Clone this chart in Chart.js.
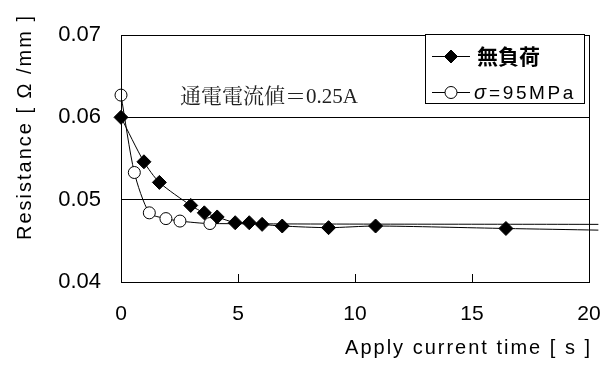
<!DOCTYPE html>
<html><head><meta charset="utf-8">
<script src="https://cdn.jsdelivr.net/npm/chart.js@4.4.0/dist/chart.umd.min.js"></script>
<style>html,body{margin:0;padding:0;background:#fff}</style>
</head><body>
<canvas id="c" width="613" height="372"></canvas>
<script>
// Data
const noLoadTime = [0, 0.98, 1.64, 2.98, 3.56, 4.11, 4.88, 5.48, 6.03, 6.89, 8.87, 10.88, 16.45, 20.4];
const noLoadRes  = [0.0600, 0.0546, 0.0521, 0.0493, 0.0484, 0.0479, 0.0472, 0.0472, 0.0470, 0.0468, 0.0466, 0.0468, 0.0465, 0.0463];
const sigmaTime  = [0, 0.57, 1.21, 1.92, 2.52, 3.80, 20.4];
const sigmaRes   = [0.0627, 0.0533, 0.0484, 0.0477, 0.0474, 0.0471, 0.0470];
const seriesNames = ['無負荷', 'σ=95MPa'];
const xTicks = [0, 5, 10, 15, 20];
const yTicks = [0.04, 0.05, 0.06, 0.07];
const annotationText = '通電電流値＝0.25A';
const xTitle = 'Apply current time [ s ]';
const yTitle = 'Resistance [ Ω /mm ]';

const SANS = "'Liberation Sans', Arial, sans-serif";
const toXY = (xs, ys) => xs.map((x, i) => ({x, y: ys[i]}));
const lastHidden = (r) => (ctx) => ctx.dataIndex === ctx.dataset.data.length - 1 ? 0 : r;

const decor = {
  id: 'decor',
  afterDraw(chart) {
    const {ctx, chartArea: a, scales: {x, y}} = chart;
    ctx.save();
    // frame
    ctx.strokeStyle = '#000'; ctx.lineWidth = 1;
    ctx.strokeRect(Math.round(a.left) + 0.5, Math.round(a.top) + 0.5, Math.round(a.right - a.left), Math.round(a.bottom - a.top));
    // inner x tick marks
    xTicks.slice(1, -1).forEach(v => {
      const px = Math.round(x.getPixelForValue(v)) + 0.5;
      ctx.beginPath(); ctx.moveTo(px, a.bottom); ctx.lineTo(px, a.bottom - 8); ctx.stroke();
    });
    // annotation
    ctx.fillStyle = '#222';
    ctx.font = "21px 'Liberation Serif', 'Noto Serif CJK JP', 'Noto Sans CJK JP', serif";
    ctx.textAlign = 'left'; ctx.textBaseline = 'middle';
    ctx.fillText(annotationText, 180, 97);
    // axis titles
    ctx.fillStyle = '#000';
    ctx.font = "20px " + SANS;
    ctx.letterSpacing = '2px';
    ctx.textAlign = 'left'; ctx.textBaseline = 'middle';
    const wx = ctx.measureText(xTitle).width;
    ctx.fillText(xTitle, 592 - wx, 348);
    ctx.save();
    ctx.translate(25, 127); ctx.rotate(-Math.PI / 2);
    const wy = ctx.measureText(yTitle).width;
    ctx.fillText(yTitle, -wy / 2, 0);
    ctx.restore();
    ctx.letterSpacing = '0px';
    // legend
    ctx.fillStyle = '#fff';
    ctx.fillRect(426, 35, 158, 68);
    ctx.strokeStyle = '#000';
    ctx.strokeRect(425.5, 34.5, 159, 69);
    const rows = [56, 92];
    chart.data.datasets.forEach((ds, i) => {
      const yy = rows[i] + 0.5;
      ctx.strokeStyle = '#000'; ctx.lineWidth = 1;
      ctx.beginPath(); ctx.moveTo(432, yy); ctx.lineTo(470, yy); ctx.stroke();
      ctx.fillStyle = ds.pointBackgroundColor;
      ctx.beginPath();
      if (ds.pointStyle === 'circle') { ctx.arc(451, yy, ds.legendRadius, 0, Math.PI * 2); }
      else { const r = ds.legendRadius; ctx.moveTo(451, yy - r); ctx.lineTo(451 + r, yy); ctx.lineTo(451, yy + r); ctx.lineTo(451 - r, yy); ctx.closePath(); }
      ctx.fill(); ctx.stroke();
      ctx.fillStyle = '#000';
      ctx.textAlign = 'left'; ctx.textBaseline = 'middle';
      if (i === 0) {
        ctx.font = "bold 21px 'Noto Sans CJK JP', sans-serif";
        ctx.fillText(seriesNames[0], 477, yy);
      } else {
        ctx.font = "italic 20px " + SANS;
        ctx.fillText(seriesNames[1].charAt(0), 474, yy + 1);
        const w = ctx.measureText(seriesNames[1].charAt(0)).width;
        ctx.font = "19px " + SANS;
        ctx.letterSpacing = '2.6px';
        ctx.fillText(seriesNames[1].slice(1), 474 + w + 3, yy + 1);
        ctx.letterSpacing = '0px';
      }
    });
    ctx.restore();
  }
};

new Chart(document.getElementById('c'), {
  type: 'scatter',
  data: {
    datasets: [
      {
        label: seriesNames[0],
        data: toXY(noLoadTime, noLoadRes),
        showLine: true, borderColor: '#000', borderWidth: 1, tension: 0.25,
        pointStyle: 'rectRot', pointRadius: lastHidden(7), pointHoverRadius: lastHidden(7),
        pointBackgroundColor: '#000', pointBorderColor: '#000', legendRadius: 6.5,
        clip: false, order: 1
      },
      {
        label: seriesNames[1],
        data: toXY(sigmaTime, sigmaRes),
        showLine: true, borderColor: '#000', borderWidth: 1, tension: 0.25,
        pointStyle: 'circle', pointRadius: lastHidden(6), pointHoverRadius: lastHidden(6),
        pointBackgroundColor: '#fff', pointBorderColor: '#000', legendRadius: 6,
        clip: false, order: 2
      }
    ]
  },
  options: {
    responsive: false, animation: false,
    layout: {padding: {left: 0, right: 24, top: 35, bottom: 0}},
    plugins: {legend: {display: false}, tooltip: {enabled: false}},
    scales: {
      x: {
        type: 'linear', min: 0, max: 20,
        afterFit: s => { s.height = 90; s.paddingLeft = 0; s.paddingRight = 0; },
        afterBuildTicks: s => { s.ticks = xTicks.map(v => ({value: v})); },
        ticks: {font: {family: SANS, size: 21}, color: '#000', padding: 12, maxRotation: 0},
        grid: {display: false},
        border: {display: true, color: '#000', width: 1}
      },
      y: {
        type: 'linear', min: 0.04, max: 0.07,
        afterFit: s => { s.width = 121; s.paddingTop = 0; s.paddingBottom = 0; },
        afterBuildTicks: s => { s.ticks = yTicks.map(v => ({value: v})); },
        ticks: {font: {family: SANS, size: 22}, color: '#000', padding: 20, callback: v => v.toFixed(2)},
        grid: {color: '#000', lineWidth: 1, drawTicks: false},
        border: {display: true, color: '#000', width: 1}
      }
    }
  },
  plugins: [decor]
});
</script>
</body></html>
